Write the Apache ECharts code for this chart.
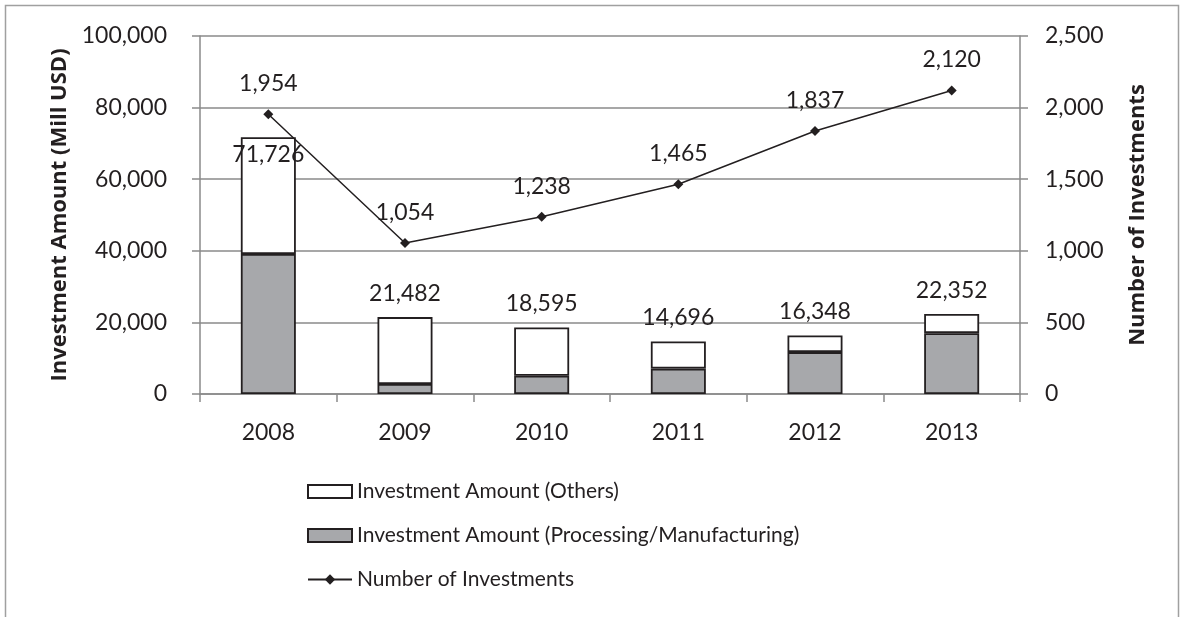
<!DOCTYPE html>
<html>
<head>
<meta charset="utf-8">
<script src="https://cdn.jsdelivr.net/npm/echarts@6/dist/echarts.min.js"></script>
<style>
  html, body { margin: 0; padding: 0; background: #fff; }
  #chart { width: 1185px; height: 617px; }
</style>
</head>
<body>
<div id="chart"></div>
<script>
// Years on the category axis
const years = ['2008', '2009', '2010', '2011', '2012', '2013'];
// Total investment amount per year (Mill USD)
const totalAmount = [71726, 21482, 18595, 14696, 16348, 22352];
// Processing / manufacturing share of the amount (Mill USD)
const processingAmount = [39100, 2800, 5100, 7100, 11700, 17000];
// Number of investments per year
const investmentCount = [1954, 1054, 1238, 1465, 1837, 2120];

// The "others" part is what remains of each year's total
const othersAmount = totalAmount.map((t, i) => t - processingAmount[i]);

const FONT = 'Lato';
const TITLE_FONT = 'Open Sans';
const TEXT = '#231f20';
const GRID = '#8a8a8a';
const NUM_SIZE = 23;
const fmt = v => v.toLocaleString('en-US');

const chart = echarts.init(document.getElementById('chart'));

chart.setOption({
  animation: false,
  textStyle: { fontFamily: FONT, color: TEXT },
  grid: { left: 200, right: 165, top: 36, bottom: 223 },
  graphic: [{
    type: 'rect',
    shape: { x: 5.5, y: 5.5, width: 1173, height: 640 },
    style: { fill: 'none', stroke: '#a0a0a0', lineWidth: 1.5 },
    silent: true
  }],
  legend: {
    orient: 'vertical',
    left: 302,
    top: 476,
    itemWidth: 44,
    itemHeight: 13,
    itemGap: 23,
    textStyle: { fontFamily: FONT, fontSize: 21, color: TEXT },
    data: [
      { name: 'Investment Amount (Others)', icon: 'rect' },
      { name: 'Investment Amount (Processing/Manufacturing)', icon: 'rect' },
      { name: 'Number of Investments' }
    ]
  },
  xAxis: {
    type: 'category',
    data: years,
    axisLine: { lineStyle: { color: GRID, width: 1.5 } },
    axisTick: { show: true, length: 8, lineStyle: { color: GRID, width: 1.5 } },
    axisLabel: { fontFamily: FONT, fontSize: NUM_SIZE, color: TEXT, margin: 27 }
  },
  yAxis: [{
    type: 'value',
    min: 0, max: 100000, interval: 20000,
    name: 'Investment Amount (Mill USD)',
    nameLocation: 'middle',
    nameRotate: 90,
    nameGap: 127,
    nameTextStyle: { fontFamily: TITLE_FONT, fontSize: 22, fontWeight: 'bold', color: TEXT },
    axisLine: { show: true, lineStyle: { color: GRID, width: 1.5 } },
    axisTick: { show: true, length: 8, lineStyle: { color: GRID, width: 1.5 } },
    splitLine: { lineStyle: { color: GRID, width: 1.5 } },
    axisLabel: { fontFamily: FONT, fontSize: NUM_SIZE, color: TEXT, margin: 33, formatter: fmt }
  }, {
    type: 'value',
    min: 0, max: 2500, interval: 500,
    name: 'Number of Investments',
    nameLocation: 'middle',
    nameRotate: 90,
    nameGap: 107,
    nameTextStyle: { fontFamily: TITLE_FONT, fontSize: 22, fontWeight: 'bold', color: TEXT },
    axisLine: { show: true, lineStyle: { color: GRID, width: 1.5 } },
    axisTick: { show: true, length: 8, lineStyle: { color: GRID, width: 1.5 } },
    splitLine: { show: false },
    axisLabel: { fontFamily: FONT, fontSize: NUM_SIZE, color: TEXT, margin: 25, formatter: fmt }
  }],
  series: [{
    name: 'Investment Amount (Processing/Manufacturing)',
    type: 'bar',
    stack: 'amount',
    barWidth: 55,
    data: processingAmount,
    itemStyle: { color: '#a7a8ab', borderColor: TEXT, borderWidth: 1.8 }
  }, {
    name: 'Investment Amount (Others)',
    type: 'bar',
    stack: 'amount',
    barWidth: 55,
    data: othersAmount.map((v, i) => i === 0
      ? { value: v, label: { position: 'insideTop', distance: 6 } }
      : v),
    itemStyle: { color: '#ffffff', borderColor: TEXT, borderWidth: 1.8 },
    label: {
      show: true,
      position: 'top',
      distance: 12,
      fontFamily: FONT,
      fontSize: NUM_SIZE,
      color: TEXT,
      formatter: p => fmt(totalAmount[p.dataIndex])
    }
  }, {
    name: 'Number of Investments',
    type: 'line',
    yAxisIndex: 1,
    data: investmentCount,
    symbol: 'diamond',
    symbolSize: 10,
    lineStyle: { color: TEXT, width: 1.5 },
    itemStyle: { color: TEXT },
    z: 5,
    label: {
      show: true,
      position: 'top',
      distance: 14,
      fontFamily: FONT,
      fontSize: NUM_SIZE,
      color: TEXT,
      formatter: p => fmt(p.value)
    }
  }]
});
</script>
</body>
</html>
